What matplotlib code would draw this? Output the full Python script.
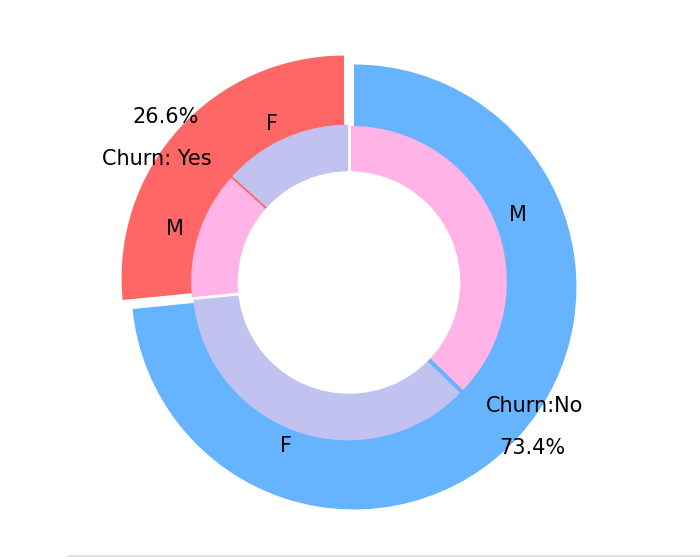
import matplotlib
matplotlib.use("Agg")
import matplotlib.pyplot as plt
from matplotlib.lines import Line2D

labels = ["Churn: Yes", "Churn:No"]
values = [1869, 5163]
labels_gender = ["F", "M", "F", "M"]
sizes_gender = [939, 930, 2544, 2619]
colors = ['#ff6666', '#66b3ff']
colors_gender = ['#c2c2f0', '#ffb3e6', '#c2c2f0', '#ffb3e6']

fig = plt.figure(figsize=(7, 5.57), dpi=100)
ax = fig.add_axes([0, 0, 1, 1])
textprops = {"fontsize": 15}
ax.pie(values, labels=labels, autopct='%1.1f%%', pctdistance=1.08, labeldistance=0.8,
       colors=colors, startangle=90, explode=(0.3, 0.3), radius=10,
       textprops=textprops, counterclock=True)
ax.pie(sizes_gender, labels=labels_gender, colors=colors_gender, startangle=90,
       explode=(0.1, 0.1, 0.1, 0.1), radius=7, textprops=textprops, counterclock=True)
ax.add_patch(plt.Circle((0, 0), 5, color='white', fc='white', linewidth=0))

s = 22.25
ax.set_xlim(-349 / s, 351 / s)
ax.set_ylim(-274.5 / s, 282.5 / s)
ax.set_aspect('auto')
ax.axis('off')

fig.add_artist(Line2D([68 / 700, 1], [0.8 / 557, 0.8 / 557], transform=fig.transFigure,
                      color='#dddddd', linewidth=1.2))
fig.savefig("out.png", dpi=100)
